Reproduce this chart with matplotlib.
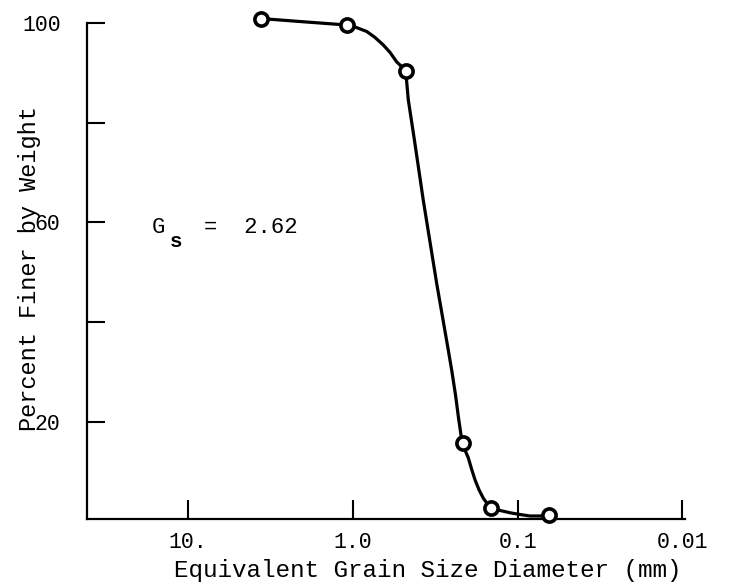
import matplotlib
matplotlib.use("Agg")
import matplotlib.pyplot as plt

# measured points (grain size in mm, percent finer)
sizes_mm = [3.63, 1.09, 0.478, 0.216, 0.145, 0.0645]
pct_finer = [100.9, 99.6, 90.4, 15.8, 2.8, 1.35]

# hand drawn gradation curve
curve_mm = [3.63, 2.10, 1.09, 0.971, 0.824, 0.734, 0.654, 0.595, 0.542,
	0.507, 0.478, 0.461, 0.423, 0.374, 0.310, 0.2635, 0.2502, 0.2382,
	0.2284, 0.2207, 0.216, 0.2101, 0.1992, 0.1905, 0.1814, 0.1715,
	0.1615, 0.1534, 0.145, 0.1279, 0.1112, 0.0967, 0.0841, 0.0731, 0.0645]
curve_pct = [100.9, 100.3, 99.6, 99.2, 98.3, 97.1, 95.6, 94.1, 92.2,
	91.3, 90.4, 84.6, 76.5, 64.5, 47.8, 34.4, 30.0, 25.4,
	20.8, 17.4, 15.8, 14.6, 12.8, 10.6, 8.4, 6.4,
	4.7, 3.7, 2.8, 2.26, 1.8, 1.45, 1.15, 1.15, 1.25]

xticks = [10, 1.0, 0.1, 0.01]
xtick_labels = ["10.", "1.0", "0.1", "0.01"]
yticks = [20, 40, 60, 80, 100]
ytick_labels = ["20", "", "60", "", "100"]

W, H = 731, 586
plt.rcParams["font.family"] = ["Liberation Mono", "DejaVu Sans Mono"]

fig = plt.figure(figsize=(W / 100, H / 100), dpi=100)
ax = fig.add_axes([87 / W, 1 - 519 / H, 598 / W, 496 / H])

ax.plot(curve_mm, curve_pct, color="black", lw=2.3, clip_on=False,
	solid_joinstyle="round", zorder=2)
ax.plot(sizes_mm, pct_finer, "o", ms=9.5, mew=2.6, mfc="white",
	mec="black", clip_on=False, zorder=3)

ax.set_xscale("log")
ax.set_xlim(41.1, 0.00964)
ax.set_ylim(0.55, 100)

ax.set_xticks(xticks)
ax.set_xticklabels(xtick_labels)
ax.minorticks_off()
ax.set_yticks(yticks)
ax.set_yticklabels(ytick_labels)

ax.tick_params(axis="x", direction="in", length=13.5, width=1.5,
	pad=9, labelsize=15.5)
ax.tick_params(axis="y", direction="in", length=13, width=1.5,
	pad=19, labelsize=15.5)

for side in ["top", "right"]:
	ax.spines[side].set_visible(False)
for side in ["left", "bottom"]:
	ax.spines[side].set_linewidth(1.6)

# specific gravity note
ax.text(16.6, 58.9, "G", fontsize=16, ha="left", va="center")
ax.text(12.9, 56.1, "s", fontsize=15, fontweight="bold", ha="left", va="center")
ax.text(8.0, 58.9, "=  2.62", fontsize=16, ha="left", va="center")

fig.text(427.5 / W, 1 - 571 / H, "Equivalent Grain Size Diameter (mm)",
	fontsize=17.5, ha="center", va="center")
fig.text(30 / W, 1 - 268.5 / H, "Percent Finer by Weight",
	fontsize=17, rotation=90, ha="center", va="center")

fig.savefig("out.png", dpi=100)
